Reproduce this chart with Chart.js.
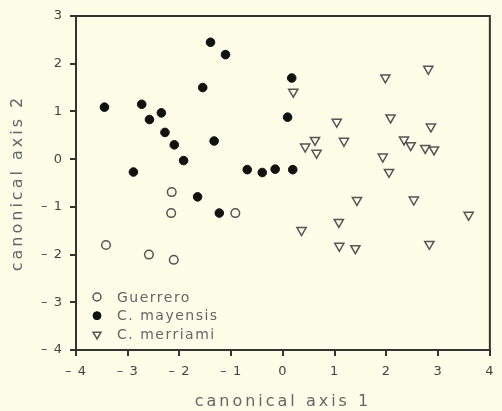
<!DOCTYPE html>
<html>
<head>
<meta charset="utf-8">
<script src="https://cdn.jsdelivr.net/npm/chart.js@4"></script>
<style>
  html, body { margin: 0; padding: 0; background: #fdfde8; }
  canvas { display: block; }
</style>
</head>
<body>
<canvas id="myChart" width="502" height="411"></canvas>
<script>
// group scores on the first two canonical axes
const guerreroX = [-2.15, -2.16, -0.92, -3.42, -2.59, -2.11];
const guerreroY = [-0.69, -1.13, -1.13, -1.80, -2.00, -2.11];

const mayensisX = [-3.45, -2.73, -2.35, -2.58, -2.28, -2.10, -1.92, -2.89, -1.55, -1.40,
                   -1.11, -1.33, 0.17, 0.09, -0.69, -0.40, -0.15, 0.19, -1.65, -1.23];
const mayensisY = [1.09, 1.15, 0.97, 0.83, 0.56, 0.30, -0.03, -0.27, 1.50, 2.45,
                   2.19, 0.38, 1.70, 0.88, -0.22, -0.28, -0.21, -0.22, -0.79, -1.13];

const merriamiX = [0.20, 1.98, 2.81, 1.04, 2.08, 2.86, 0.62, 1.18, 0.43, 0.65, 2.34, 2.47,
                   2.75, 2.92, 1.93, 2.05, 1.43, 2.53, 3.59, 0.36, 1.08, 1.09, 1.40, 2.83];
const merriamiY = [1.41, 1.71, 1.89, 0.78, 0.87, 0.68, 0.40, 0.38, 0.26, 0.13, 0.41, 0.29,
                   0.23, 0.20, 0.05, -0.27, -0.86, -0.85, -1.17, -1.49, -1.32, -1.82, -1.87, -1.78];

const groupNames = ["Guerrero", "C. mayensis", "C. merriami"];
const axisTitles = ["canonical axis 1", "canonical axis 2"];

function pontos(xs, ys) {
  return xs.map((x, i) => ({ x: x, y: ys[i] }));
}

function rotulo(v) {
  return v < 0 ? "\u2013 " + Math.abs(v) : String(v);
}

const corEixo = "#333";

// legend drawn inside the plot, lower left
const legendaDentro = {
  id: "legendaDentro",
  afterDraw(chart) {
    const ctx = chart.ctx;
    const area = chart.chartArea;
    ctx.save();
    ctx.letterSpacing = "1.5px";
    ctx.font = "14px 'DejaVu Sans'";
    ctx.textBaseline = "middle";
    chart.data.datasets.forEach((ds, i) => {
      const y = area.bottom - 53 + i * 18.7;
      const x = area.left + 21;
      ctx.fillStyle = ds.backgroundColor;
      ctx.strokeStyle = ds.borderColor;
      ctx.lineWidth = ds.borderWidth;
      Chart.helpers.drawPoint(ctx, {
        pointStyle: ds.pointStyle,
        rotation: ds.rotation || 0,
        radius: ds.pointStyle === "triangle" ? 4.5 : 4,
        borderWidth: ds.borderWidth
      }, x, y);
      ctx.fillStyle = "#666";
      ctx.fillText(ds.label, x + 20, y + 1);
    });
    ctx.restore();
  }
};

// frame on top and right, spacing for texts
const moldura = {
  id: "moldura",
  beforeDraw(chart) {
    chart.ctx.letterSpacing = "3px";
  },
  afterDatasetsDraw(chart) {
    chart.ctx.letterSpacing = "1px";
  },
  afterDraw(chart) {
    const ctx = chart.ctx;
    const a = chart.chartArea;
    ctx.save();
    ctx.strokeStyle = corEixo;
    ctx.lineWidth = 2;
    ctx.strokeRect(a.left, a.top, a.right - a.left, a.bottom - a.top);
    ctx.restore();
  }
};

const ctx = document.getElementById("myChart").getContext("2d");
const myChart = new Chart(ctx, {
  type: "scatter",
  data: {
    datasets: [
      {
        label: groupNames[0],
        data: pontos(guerreroX, guerreroY),
        pointStyle: "circle",
        pointRadius: 4.3,
        backgroundColor: "rgba(0,0,0,0)",
        borderColor: "#555",
        borderWidth: 1.5
      },
      {
        label: groupNames[1],
        data: pontos(mayensisX, mayensisY),
        pointStyle: "circle",
        pointRadius: 4.3,
        backgroundColor: "#111",
        borderColor: "#111",
        borderWidth: 1
      },
      {
        label: groupNames[2],
        data: pontos(merriamiX, merriamiY),
        pointStyle: "triangle",
        rotation: 180,
        pointRadius: 5.3,
        backgroundColor: "rgba(0,0,0,0)",
        borderColor: "#555",
        borderWidth: 1.5
      }
    ]
  },
  options: {
    responsive: false,
    animation: false,
    layout: { padding: { top: 16, right: 2, left: 0, bottom: 0 } },
    plugins: {
      legend: { display: false },
      tooltip: { enabled: false }
    },
    scales: {
      x: {
        type: "linear",
        min: -4,
        max: 4,
        afterFit: (s) => { s.height = 61; },
        ticks: {
          stepSize: 1,
          z: 1,
          padding: 8,
          color: "#444",
          font: { family: "DejaVu Sans", size: 13 },
          callback: rotulo
        },
        grid: { drawOnChartArea: false, drawTicks: true, tickLength: 6, color: corEixo, lineWidth: 2 },
        border: { display: true, color: corEixo, width: 2 },
        title: {
          display: true,
          text: axisTitles[0],
          color: "#666",
          font: { family: "DejaVu Sans", size: 16 },
          padding: { top: 0, bottom: 0 }
        }
      },
      y: {
        type: "linear",
        min: -4,
        max: 3,
        afterFit: (s) => { s.width = 76; },
        ticks: {
          stepSize: 1,
          z: 1,
          padding: 7,
          color: "#444",
          font: { family: "DejaVu Sans", size: 13 },
          callback: rotulo
        },
        grid: { drawOnChartArea: false, drawTicks: true, tickLength: 6, color: corEixo, lineWidth: 2 },
        border: { display: true, color: corEixo, width: 2 },
        title: {
          display: true,
          text: axisTitles[1],
          color: "#666",
          font: { family: "DejaVu Sans", size: 16 },
          padding: { top: 8, bottom: 0 }
        }
      }
    }
  },
  plugins: [moldura, legendaDentro]
});
</script>
</body>
</html>
